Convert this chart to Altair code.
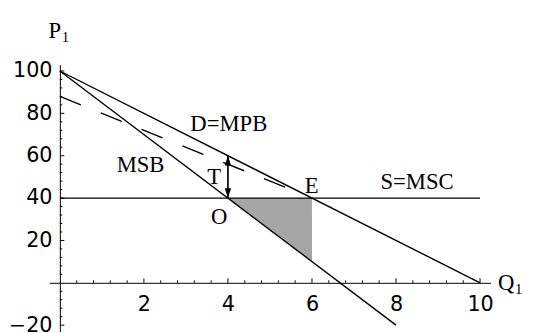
import altair as alt
import pandas as pd

# ---- data ----
d_q = [0, 10]
d_p = [100, 0]                 # D = MPB
msb_q = [0, 8]
msb_p = [100, -20]             # MSB
msc_q = [0, 10]
msc_p = [40, 40]               # S = MSC
dash_q = [0, 5.4]
dash_p = [88, 44.8]            # dashed curve
shade_q = [4, 6]
shade_low = [40, 10]
shade_high = [40, 40]
arrow_q = [4]
arrow_lo = [40]
arrow_hi = [60]

label_text = ["D=MPB", "MSB", "T", "O", "E", "S=MSC"]
label_q = [4.02, 1.92, 3.67, 3.79, 5.99, 8.5]
label_p = [75.1, 55.8, 50.0, 31.2, 45.8, 47.4]

x_major = [2, 4, 6, 8, 10]
x_minor = [0.4, 0.8, 1.2, 1.6, 2.4, 2.8, 3.2, 3.6, 4.4, 4.8, 5.2, 5.6,
           6.4, 6.8, 7.2, 7.6, 8.4, 8.8, 9.2, 9.6]
y_major = [-20, 20, 40, 60, 80, 100]
y_minor = [-16, -12, -8, -4, 4, 8, 12, 16, 24, 28, 32, 36, 44, 48, 52, 56,
           64, 68, 72, 76, 84, 88, 92, 96]

X_DOM = [-0.25, 10.25]
Y_DOM = [-23, 103]
W, H = 448, 271

xs = alt.Scale(domain=X_DOM, nice=False, zero=False)
ys = alt.Scale(domain=Y_DOM, nice=False, zero=False)

xaxis = alt.Axis(values=x_major, orient="bottom", offset=-(23 * H / 126),
                 ticks=False, tickSize=0, grid=False, title=None,
                 domainColor="black", domainWidth=1, labelColor="black",
                 labelFont="DejaVu Sans", labelFontSize=21, labelPadding=11,
                 labelFlush=False, labelOverlap=False)
yaxis = alt.Axis(values=y_major, orient="left", offset=-(0.25 * W / 10.5),
                 ticks=False, tickSize=0, grid=False, title=None,
                 domainColor="black", domainWidth=1, labelColor="black",
                 labelFont="DejaVu Sans", labelFontSize=21, labelPadding=8,
                 labelFlush=False, labelOverlap=False)


def X(f):
    return alt.X(f, type="quantitative", scale=xs, axis=xaxis)


def Y(f):
    return alt.Y(f, type="quantitative", scale=ys, axis=yaxis)


def line_df(q, p):
    return pd.DataFrame({"q": q, "p": p})


shade = alt.Chart(pd.DataFrame({"q": shade_q, "lo": shade_low, "hi": shade_high})).mark_area(
    color="#a6a6a6", opacity=1).encode(x=X("q"), y=Y("lo"), y2="hi")

d_line = alt.Chart(line_df(d_q, d_p)).mark_line(color="black", strokeWidth=1.4).encode(x=X("q"), y=Y("p"))
msb_line = alt.Chart(line_df(msb_q, msb_p)).mark_line(color="black", strokeWidth=1.4).encode(x=X("q"), y=Y("p"))
msc_line = alt.Chart(line_df(msc_q, msc_p)).mark_line(color="black", strokeWidth=1.4).encode(x=X("q"), y=Y("p"))
dash_line = alt.Chart(line_df(dash_q, dash_p)).mark_line(
    color="black", strokeWidth=1.4, strokeDash=[23, 21.7]).encode(x=X("q"), y=Y("p"))

arrow_df = pd.DataFrame({"q": arrow_q, "lo": arrow_lo, "hi": arrow_hi})
arrow_shaft = alt.Chart(arrow_df).mark_rule(color="black", strokeWidth=1.7).encode(
    x=X("q"), y=Y("lo"), y2="hi")
head_up = alt.Chart(arrow_df).mark_point(
    shape="M0,-1L0.65,1L-0.65,1Z", size=100, filled=True, color="black", opacity=1, yOffset=5
).encode(x=X("q"), y=Y("hi"))
head_dn = alt.Chart(arrow_df).mark_point(
    shape="M0,1L0.65,-1L-0.65,-1Z", size=100, filled=True, color="black", opacity=1, yOffset=-5
).encode(x=X("q"), y=Y("lo"))

xt_major = alt.Chart(pd.DataFrame({"q": x_major, "z": [0] * len(x_major)})).mark_rule(
    color="black", strokeWidth=1, y2Offset=-4.5).encode(x=X("q"), y=Y("z"), y2="z")
xt_minor = alt.Chart(pd.DataFrame({"q": x_minor, "z": [0] * len(x_minor)})).mark_rule(
    color="black", strokeWidth=1, y2Offset=-2.5).encode(x=X("q"), y=Y("z"), y2="z")
yt_major = alt.Chart(pd.DataFrame({"p": y_major, "z": [0] * len(y_major)})).mark_rule(
    color="black", strokeWidth=1, x2Offset=4.5).encode(y=Y("p"), x=X("z"), x2="z")
yt_minor = alt.Chart(pd.DataFrame({"p": y_minor, "z": [0] * len(y_minor)})).mark_rule(
    color="black", strokeWidth=1, x2Offset=2.5).encode(y=Y("p"), x=X("z"), x2="z")

labels = alt.Chart(pd.DataFrame({"t": label_text, "q": label_q, "p": label_p})).mark_text(
    font="Liberation Serif", fontSize=23, color="black", baseline="middle", align="center"
).encode(x=X("q"), y=Y("p"), text="t:N")

# axis names with subscripts
name_text = ["P", "Q"]
name_q = [-0.12, 10.62]
name_p = [119, 0]
sub_text = ["1", "1"]
names = alt.Chart(pd.DataFrame({"t": name_text, "q": name_q, "p": name_p})).mark_text(
    font="Liberation Serif", fontSize=23, color="black", baseline="middle", align="center"
).encode(x=X("q"), y=Y("p"), text="t:N")
sub_p = alt.Chart(pd.DataFrame({"t": sub_text[:1], "q": name_q[:1], "p": name_p[:1]})).mark_text(
    font="Liberation Serif", fontSize=15, color="black", baseline="middle", align="left",
    dx=7, dy=6
).encode(x=X("q"), y=Y("p"), text="t:N")
sub_q = alt.Chart(pd.DataFrame({"t": sub_text[1:], "q": name_q[1:], "p": name_p[1:]})).mark_text(
    font="Liberation Serif", fontSize=15, color="black", baseline="middle", align="left",
    dx=9, dy=6
).encode(x=X("q"), y=Y("p"), text="t:N")

chart = alt.layer(
    shade, d_line, msb_line, msc_line, dash_line, arrow_shaft, head_up, head_dn,
    xt_major, xt_minor, yt_major, yt_minor, labels, names, sub_p, sub_q
).properties(
    width=W, height=H,
    autosize=alt.AutoSizeParams(type="none"),
    padding={"left": 42, "top": 55, "right": 36, "bottom": 0},
    background="white",
).configure_view(stroke=None)

chart.save("out.html", embed_options={"renderer": "svg", "actions": False})
